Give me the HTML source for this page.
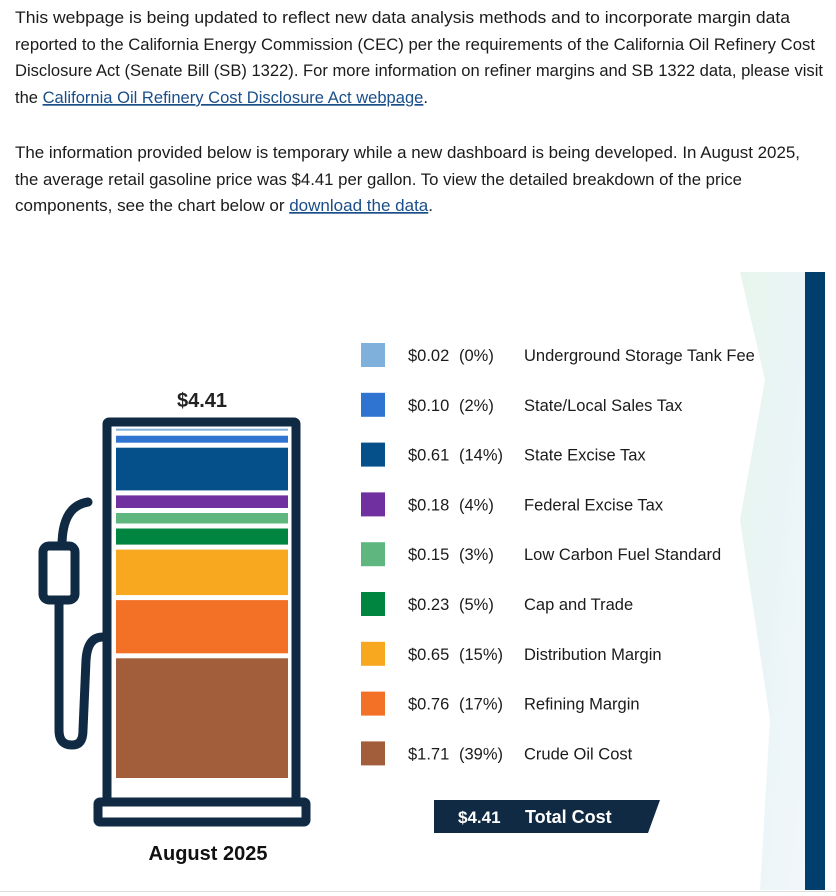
<!DOCTYPE html>
<html><head><meta charset="utf-8"><style>
html,body{margin:0;padding:0;background:#fff;width:836px;height:896px;overflow:hidden}
svg{display:block;font-family:"Liberation Sans",sans-serif}
.p{font-size:17px;fill:#1b1b1b}
.lk{fill:#1a4f8a;text-decoration:underline}
.lg{font-size:16.5px;fill:#1b1b1b}
</style></head><body>
<svg id="chart" width="836" height="896" viewBox="0 0 836 896">
<defs>
<linearGradient id="gr" x1="0" y1="0" x2="1" y2="1">
<stop offset="0" stop-color="#d6f0e0"/><stop offset="0.5" stop-color="#dcedf0"/><stop offset="1" stop-color="#e8f2f8"/>
</linearGradient>
</defs>
<g>
<text class="p" x="15" y="23" textLength="775" lengthAdjust="spacingAndGlyphs">This webpage is being updated to reflect new data analysis methods and to incorporate margin data</text>
<text class="p" x="15" y="50" textLength="800" lengthAdjust="spacingAndGlyphs">reported to the California Energy Commission (CEC) per the requirements of the California Oil Refinery Cost</text>
<text class="p" x="15" y="76" textLength="808" lengthAdjust="spacingAndGlyphs">Disclosure Act (Senate Bill (SB) 1322). For more information on refiner margins and SB 1322 data, please visit</text>
<text class="p" x="15" y="103" textLength="413" lengthAdjust="spacingAndGlyphs">the <tspan class="lk">California Oil Refinery Cost Disclosure Act webpage</tspan>.</text>
<text class="p" x="15" y="158" textLength="785" lengthAdjust="spacingAndGlyphs">The information provided below is temporary while a new dashboard is being developed. In August 2025,</text>
<text class="p" x="15" y="185" textLength="727" lengthAdjust="spacingAndGlyphs">the average retail gasoline price was $4.41 per gallon. To view the detailed breakdown of the price</text>
<text class="p" x="15" y="211" textLength="418" lengthAdjust="spacingAndGlyphs">components, see the chart below or <tspan class="lk">download the data</tspan>.</text>
</g>
<g>
<polygon points="740,272 805,272 805,890 760,890 770,720 740,520 765,380" fill="url(#gr)" opacity="0.6"/>
<rect x="805" y="272" width="20" height="618" fill="#003e6e"/>
</g>
<line x1="0" y1="891.5" x2="836" y2="891.5" stroke="#ddd" stroke-width="1"/>
<g fill="none" stroke="#102a43" stroke-linecap="round" stroke-linejoin="round">
<rect x="107" y="422" width="189" height="380" rx="2" stroke-width="9"/>
<rect x="98" y="802" width="208" height="20" rx="2" stroke-width="9"/>
<rect x="43" y="546" width="32" height="54" rx="6" stroke-width="9"/>
<path d="M62,546 C62,520 70,505 88,502" stroke-width="9"/>
<path d="M59,600 L59,730 C59,742 65,745 72,745 C80,745 83,740 83,730 L86,660 C87,645 92,637 103,637" stroke-width="9"/>
</g>
<text x="202" y="407" text-anchor="middle" font-size="20" font-weight="bold" fill="#222">$4.41</text>
<text x="208" y="860" text-anchor="middle" font-size="20" font-weight="bold" fill="#111">August 2025</text>
<g id="bars"></g>
<g id="legend"></g>
<g>
<polygon points="434,800 660,800 648,833 434,833" fill="#102a43"/>
<text x="458" y="823" font-size="17" font-weight="bold" fill="#fff">$4.41</text>
<text x="525" y="823" font-size="18" font-weight="bold" fill="#fff">Total Cost</text>
</g>
</svg>
<script>
const categories = ["Underground Storage Tank Fee","State/Local Sales Tax","State Excise Tax","Federal Excise Tax","Low Carbon Fuel Standard","Cap and Trade","Distribution Margin","Refining Margin","Crude Oil Cost"];
const values = [0.02,0.10,0.61,0.18,0.15,0.23,0.65,0.76,1.71];
const percents = ["0%","2%","14%","4%","3%","5%","15%","17%","39%"];
const colors = ["#7fb0dc","#2f74d0","#05508a","#7030a0","#5fb77f","#008540","#f7a81e","#f37127","#a25e3a"];
const NS = "http://www.w3.org/2000/svg";
const bars = document.getElementById('bars');
const legend = document.getElementById('legend');
const y0 = 778, scale = 70, gap = 5, minH = 2;
function hOf(v){ return Math.max(minH, v*scale); }
let y = y0;
for (let i = values.length-1; i >= 0; i--) {
  const h = hOf(values[i]);
  const r = document.createElementNS(NS,'rect');
  r.setAttribute('x',116); r.setAttribute('y',y-h); r.setAttribute('width',172); r.setAttribute('height',h);
  r.setAttribute('fill',colors[i]);
  
  
  bars.appendChild(r);
  y -= h + gap;
}
for (let i = 0; i < categories.length; i++) {
  const cy = 355 + i*49.8;
  const g = document.createElementNS(NS,'g');
  
  
  const s = document.createElementNS(NS,'rect');
  s.setAttribute('x',361); s.setAttribute('y',cy-12); s.setAttribute('width',24); s.setAttribute('height',24);
  s.setAttribute('fill',colors[i]);
  g.appendChild(s);
  const t1 = document.createElementNS(NS,'text');
  t1.setAttribute('class','lg'); t1.setAttribute('x',408); t1.setAttribute('y',cy+6);
  t1.textContent = '$' + values[i].toFixed(2);
  g.appendChild(t1);
  const t2 = document.createElementNS(NS,'text');
  t2.setAttribute('class','lg'); t2.setAttribute('x',459); t2.setAttribute('y',cy+6);
  t2.textContent = '(' + percents[i] + ')';
  g.appendChild(t2);
  const t3 = document.createElementNS(NS,'text');
  t3.setAttribute('class','lg'); t3.setAttribute('x',524); t3.setAttribute('y',cy+6);
  t3.textContent = categories[i];
  g.appendChild(t3);
  legend.appendChild(g);
}
</script>
</body></html>
